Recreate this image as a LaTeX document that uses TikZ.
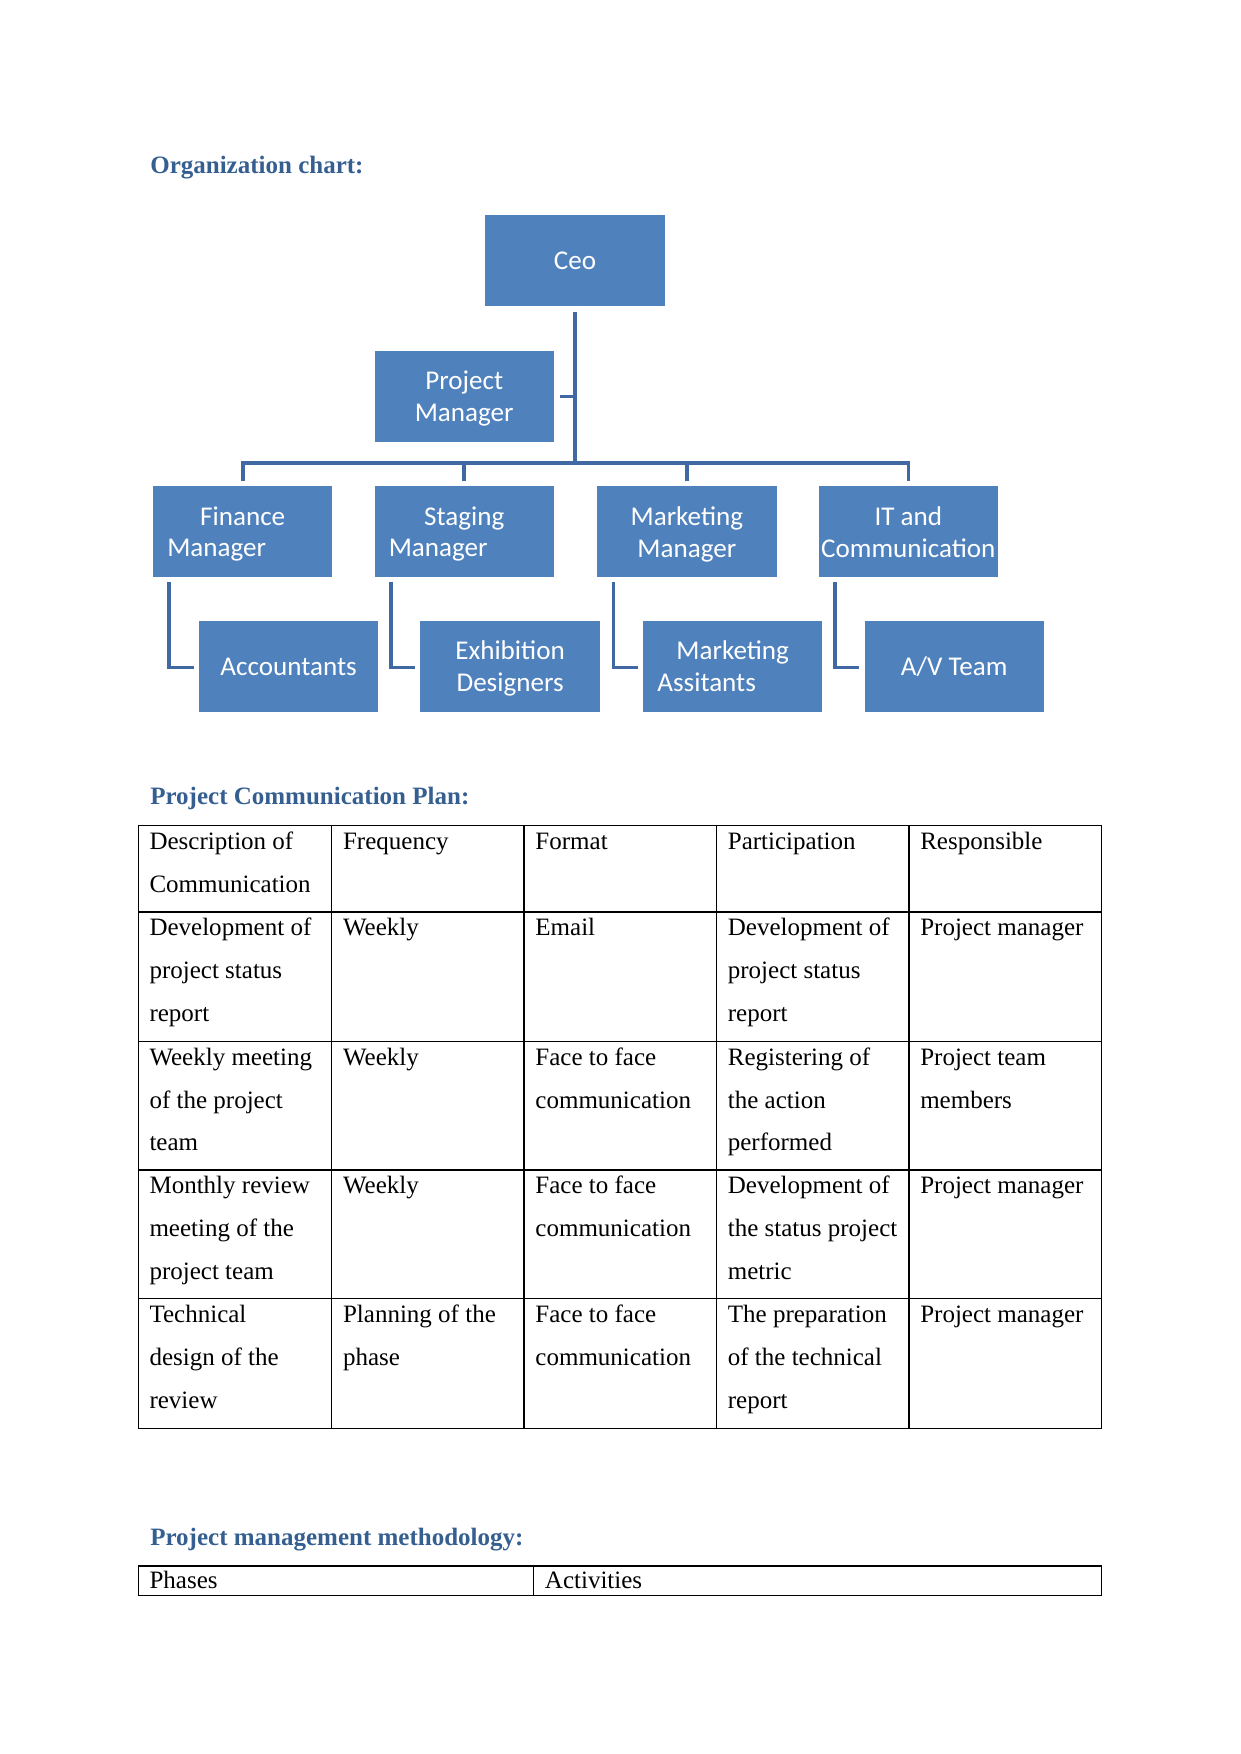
\documentclass[tikz,border=0pt]{standalone}
\usepackage{fontspec}
\setmainfont{Liberation Serif}
\newfontfamily\boxfont{Carlito}
\usetikzlibrary{calc}
\definecolor{boxblue}{HTML}{4F81BD}
\definecolor{linkblue}{HTML}{4068A2}
\definecolor{headblue}{HTML}{365F91}
\newcommand\U{0.53679pt}
\newcommand\tcell[4]{\foreach \lin [count=\i] in {#4} {\node[celltext] (#1-\i) at (#2+9.8, #3+21.3+38.3*\i-38.3) {\lin};}}
\begin{document}
\begin{tikzpicture}[x=\U, y=-\U,
  orgbox/.style={fill=boxblue, draw=none, minimum width=160.3*\U, minimum height=81*\U, inner sep=0, text=white, text depth=0pt, font=\boxfont\fontsize{13}{15.3}\selectfont, align=center},
  conn/.style={draw=linkblue, line width=1.75pt},
  heading/.style={anchor=base west, inner sep=0, text=headblue, font=\fontsize{12}{14}\selectfont\bfseries},
  celltext/.style={anchor=base west, inner sep=0, font=\fontsize{12}{14}\selectfont},
  gridline/.style={line width=0.6pt},
  gridthick/.style={line width=1.1pt}]
\useasboundingbox (0,0) rectangle (1109,1568);

% ---------- headings ----------
\node[heading] (h1) at (134,155) {Organization chart:};
\node[heading] (h2) at (134,719.5) {Project Communication Plan:};
\node[heading] (h3) at (134,1381.5) {Project management methodology:};

% ---------- org chart ----------
\node[orgbox] (ceo) at (514,232.7) {Ceo};
\node[orgbox] (pm)  at (415,354.5) {Project\\Manager};
\node[orgbox] (fin) at (217,475.3) {Finance\\Manager\rule{25pt}{0pt}};
\node[orgbox] (stg) at (415,475.3) {Staging\\Manager\rule{25pt}{0pt}};
\node[orgbox] (mkt) at (614,475.3) {Marketing\\Manager};
\node[orgbox] (it)  at (812,475.3) {IT and\\Communication};
\node[orgbox] (acc) at (258,595.7) {Accountants};
\node[orgbox] (exh) at (456,595.7) {Exhibition\\Designers};
\node[orgbox] (mas) at (655,595.7) {Marketing\\Assitants\rule{25pt}{0pt}};
\node[orgbox] (av)  at (853,595.7) {A/V Team};

\coordinate (barL) at (217,414);
\draw[conn] ($(ceo.south)+(0,5)$) -- (ceo.south |- barL);
\draw[conn] ($(pm.east)+(5,0)$) -- (pm.east -| ceo.south);
\draw[conn] ($(fin.north)+(0,-4)$) -- (fin.north |- barL) -- (it.north |- barL) -- ($(it.north)+(0,-4)$);
\draw[conn] ($(stg.north)+(0,-4)$) -- (stg.north |- barL);
\draw[conn] ($(mkt.north)+(0,-4)$) -- (mkt.north |- barL);
\draw[conn] ($(fin.south west)+(14.8,4.4)$) |- ($(acc.west)+(-4.4,1)$);
\draw[conn] ($(stg.south west)+(14.8,4.4)$) |- ($(exh.west)+(-4.4,1)$);
\draw[conn] ($(mkt.south west)+(14.8,4.4)$) |- ($(mas.west)+(-4.4,1)$);
\draw[conn] ($(it.south west)+(14.8,4.4)$) |- ($(av.west)+(-4.4,1)$);

% ---------- communication plan table ----------
\draw[gridline] (123.5,738) rectangle (985,1277);
\foreach \cx in {296.5,468.5,640.5,812.5} \draw[gridline] (\cx,738) -- (\cx,1277);
\draw[gridthick] (123.5,815) -- (985,815);
\foreach \ry in {931,1046,1161} \draw[gridline] (123.5,\ry) -- (985,\ry);

\tcell{a1}{123.5}{738}{Description of, Communication}
\tcell{b1}{296.5}{738}{Frequency}
\tcell{c1}{468.5}{738}{Format}
\tcell{d1}{640.5}{738}{Participation}
\tcell{e1}{812.5}{738}{Responsible}

\tcell{a2}{123.5}{815}{Development of, project status, report}
\tcell{b2}{296.5}{815}{Weekly}
\tcell{c2}{468.5}{815}{Email}
\tcell{d2}{640.5}{815}{Development of, project status, report}
\tcell{e2}{812.5}{815}{Project manager}

\tcell{a3}{123.5}{931}{Weekly meeting, of the project, team}
\tcell{b3}{296.5}{931}{Weekly}
\tcell{c3}{468.5}{931}{Face to face, communication}
\tcell{d3}{640.5}{931}{Registering of, the action, performed}
\tcell{e3}{812.5}{931}{Project team, members}

\tcell{a4}{123.5}{1046}{Monthly review, meeting of the, project team}
\tcell{b4}{296.5}{1046}{Weekly}
\tcell{c4}{468.5}{1046}{Face to face, communication}
\tcell{d4}{640.5}{1046}{Development of, the status project, metric}
\tcell{e4}{812.5}{1046}{Project manager}

\tcell{a5}{123.5}{1161}{Technical, design of the, review}
\tcell{b5}{296.5}{1161}{Planning of the, phase}
\tcell{c5}{468.5}{1161}{Face to face, communication}
\tcell{d5}{640.5}{1161}{The preparation, of the technical, report}
\tcell{e5}{812.5}{1161}{Project manager}

% ---------- methodology table ----------
\draw[gridline] (123.5,1400) rectangle (985,1426);
\draw[gridline] (477,1400) -- (477,1426);
\node[celltext] (ph) at (133.3,1420) {Phases};
\node[celltext] (ac) at (486.8,1420) {Activities};
\end{tikzpicture}
\end{document}
